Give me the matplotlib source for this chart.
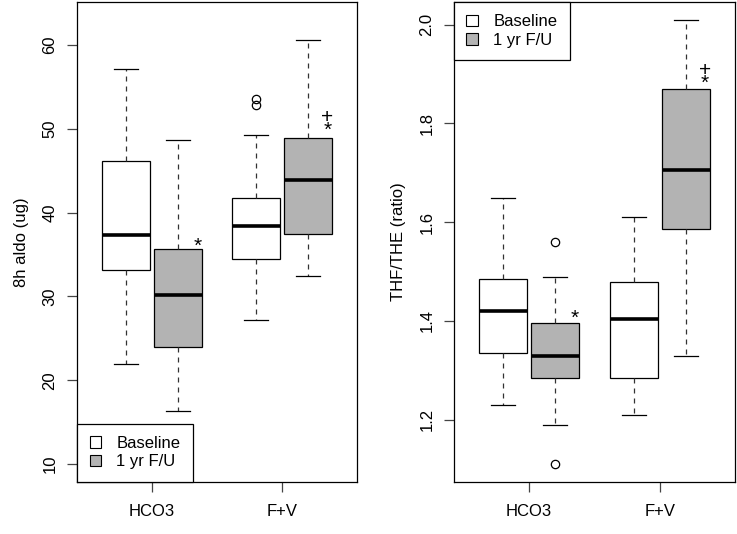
import matplotlib
matplotlib.use("Agg")
import matplotlib.pyplot as plt
from matplotlib.patches import Patch

plt.rcParams['font.family'] = ['Liberation Sans', 'DejaVu Sans']

positions = [1, 2, 3.5, 4.5]
groups = ["HCO3", "F+V"]
group_pos = [1.5, 4]
series = ["Baseline", "1 yr F/U"]
fills = ["white", "#b3b3b3"]

# 8h aldo (ug): HCO3 baseline, HCO3 F/U, F+V baseline, F+V F/U
aldo_lo = [21.9, 16.3, 27.2, 32.5]
aldo_q1 = [33.1, 24.0, 34.5, 37.4]
aldo_med = [37.3, 30.2, 38.4, 43.9]
aldo_q3 = [46.2, 35.7, 41.7, 48.9]
aldo_hi = [57.1, 48.6, 49.2, 60.6]
aldo_out = [[], [], [53.5, 52.8], []]

# THF/THE (ratio)
ratio_lo = [1.23, 1.19, 1.21, 1.33]
ratio_q1 = [1.335, 1.285, 1.285, 1.586]
ratio_med = [1.420, 1.330, 1.405, 1.705]
ratio_q3 = [1.485, 1.395, 1.479, 1.869]
ratio_hi = [1.650, 1.490, 1.610, 2.010]
ratio_out = [[], [1.56, 1.11], [], []]


def panel(ax, lo, q1, med, q3, hi, out, ylim, yticks, ylabel, marks, legend_loc):
    stats = [dict(whislo=lo[i], q1=q1[i], med=med[i], q3=q3[i], whishi=hi[i],
                  fliers=out[i]) for i in range(4)]
    bp = ax.bxp(stats, positions=positions, widths=0.92, patch_artist=True,
                boxprops=dict(edgecolor='black', linewidth=0.9),
                whiskerprops=dict(linestyle=(0, (4, 4)), linewidth=0.9, color='#333333'),
                capprops=dict(linewidth=0.9, color='black'),
                medianprops=dict(linewidth=2.6, color='black'),
                flierprops=dict(marker='o', markersize=6, markerfacecolor='none',
                                markeredgecolor='black', markeredgewidth=0.9))
    for i, b in enumerate(bp['boxes']):
        b.set_facecolor(fills[i % 2])
    for c in bp['caps']:
        x = c.get_xdata()
        m = (x[0] + x[1]) / 2
        c.set_xdata([m - 0.23, m + 0.23])
    ax.set_xlim(0.06, 5.44)
    ax.set_ylim(*ylim)
    ax.set_xticks(group_pos)
    ax.set_xticklabels(groups, fontsize=12)
    ax.set_yticks(yticks)
    ax.set_yticklabels([str(t) for t in yticks], rotation=90, va='center', fontsize=12)
    ax.tick_params(axis='both', length=7, width=0.9, color='#444444', pad=9)
    ax.tick_params(axis='y', pad=7)
    ax.set_ylabel(ylabel, fontsize=12, labelpad=10)
    for s in ax.spines.values():
        s.set_linewidth(0.9)
    for x, y, t in marks:
        ax.text(x, y, t, ha='center', va='center', fontsize=15, linespacing=0.6)
    handles = [Patch(facecolor=fills[i], edgecolor='black', linewidth=0.8, label=series[i])
               for i in range(2)]
    leg = ax.legend(handles=handles, loc=legend_loc, borderaxespad=0, fancybox=False,
                    edgecolor='black', fontsize=12, handlelength=0.7, handleheight=0.7,
                    handletextpad=0.9, borderpad=0.75, labelspacing=0.2, framealpha=1)
    leg.get_frame().set_linewidth(0.9)


fig = plt.figure(figsize=(7.37, 5.34), dpi=100)
ax1 = fig.add_axes([0.1045, 0.0974, 0.380, 0.899])
ax2 = fig.add_axes([0.616, 0.0974, 0.381, 0.899])

panel(ax1, aldo_lo, aldo_q1, aldo_med, aldo_q3, aldo_hi, aldo_out,
      (7.88, 65.12), [10, 20, 30, 40, 50, 60], "8h aldo (ug)",
      [(2.37, 36.0, "*"), (4.87, 50.6, "+\n*")], 'lower left')
panel(ax2, ratio_lo, ratio_q1, ratio_med, ratio_q3, ratio_hi, ratio_out,
      (1.074, 2.046), [1.2, 1.4, 1.6, 1.8, 2.0], "THF/THE (ratio)",
      [(2.37, 1.405, "*"), (4.87, 1.895, "+\n*")], 'upper left')

fig.savefig("out.png", dpi=100)
